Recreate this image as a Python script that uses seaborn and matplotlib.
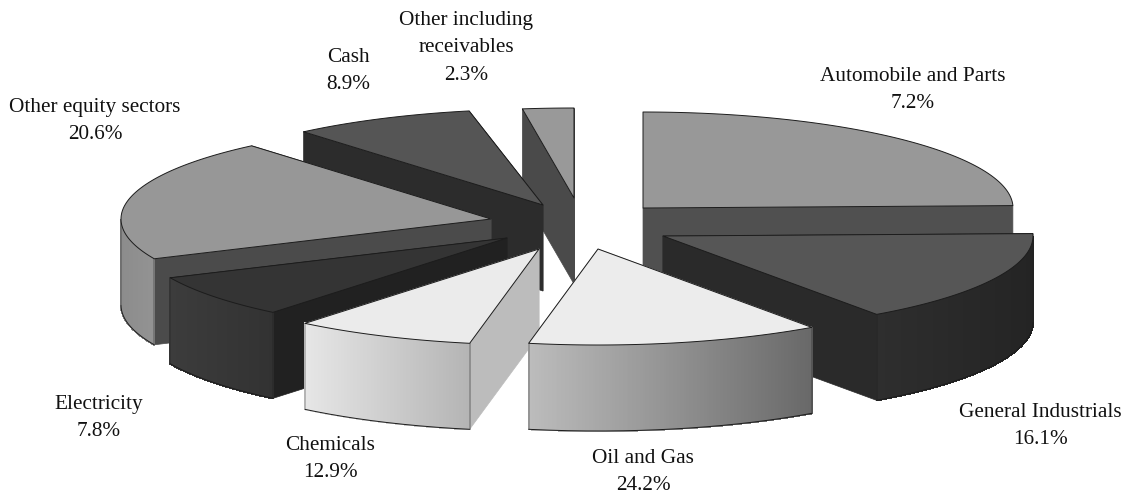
import numpy as np
import matplotlib
matplotlib.use("Agg")
import matplotlib.pyplot as plt
import seaborn as sns

# Data
categories = ["Automobile and Parts", "General Industrials", "Oil and Gas", "Chemicals",
              "Electricity", "Other equity sectors", "Cash", "Other including\nreceivables"]
printed_pct = ["7.2%", "16.1%", "24.2%", "12.9%", "7.8%", "20.6%", "8.9%", "2.3%"]
# Drawn size of every slice as it appears in the picture (differs from printed labels)
drawn_share = [24.6, 15.6, 12.8, 7.9, 7.3, 20.6, 8.0, 3.2]

# Style and layout
CX, CY = 590, 225
RX, DEPTH = 370, 86
slice_ry = [96, 96, 96, 96, 96, 96, 96, 90]
start_trim_deg = [0, 0, 0, 0, 0, 0, 0, 3.5]
apex_dx = [53, 73, 8, -51, -83, -99, -47, -16]
apex_dy = [-17, 11, 24, 24, 13, -6, -20, -27]
top_col = ["#989898", "#565656", "#ececec", "#ebebeb", "#343434", "#979797", "#555555", "#999999"]
wall_col = ["#505050", "#2a2a2a", "#bdbdbd", "#bcbcbc", "#212121", "#4b4b4b", "#2c2c2c", "#4a4a4a"]
arc_left = ["#8a8a8a", "#2e2e2e", "#bcbcbc", "#e6e6e6", "#3c3c3c", "#8c8c8c", "#333333", "#888888"]
arc_right = ["#666666", "#242424", "#686868", "#b4b4b4", "#323232", "#a8a8a8", "#333333", "#888888"]
draw_order = [7, 6, 5, 4, 0, 1, 3, 2]
label_xy = [(913, 90), (1040, 426), (643, 472), (330, 459), (99, 418), (95, 121), (348, 71), (466, 48)]

sns.set_theme(style="white")
plt.rcParams["font.family"] = ["Liberation Serif", "DejaVu Serif"]

fig = plt.figure(figsize=(11.28, 4.96), dpi=100)
ax = fig.add_axes([0, 0, 1, 1])
ax.set_xlim(0, 1128)
ax.set_ylim(496, 0)
ax.axis("off")

shares = np.asarray(drawn_share, float)
edges = 90 - np.concatenate([[0], np.cumsum(shares)]) / shares.sum() * 360
LW = 0.7
EC = "#1c1c1c"


def hex2rgb(c):
    return np.array(matplotlib.colors.to_rgb(c))


for order, i in enumerate(draw_order):
    ax0, ay0 = CX + apex_dx[i], CY + apex_dy[i]
    RY = slice_ry[i]
    th = np.radians(np.linspace(edges[i] - start_trim_deg[i], edges[i + 1], 160))
    x = ax0 + RX * np.cos(th)
    y = ay0 - RY * np.sin(th)
    base = 1 + order * 3
    # radial walls
    for k in (0, -1):
        ax.fill([ax0, x[k], x[k], ax0], [ay0, y[k], y[k] + DEPTH, ay0 + DEPTH],
                facecolor=wall_col[i], edgecolor=wall_col[i], lw=0.5, zorder=base)
    # shaded outer rim (only the part facing the viewer), drawn as narrow strips
    front = np.sin(th) < 0
    if front.any():
        fx, fy = x[front], y[front]
        xmin, xmax = x.min(), x.max()
        cl, cr = hex2rgb(arc_left[i]), hex2rgb(arc_right[i])
        for j in range(len(fx) - 1):
            t = (0.5 * (fx[j] + fx[j + 1]) - xmin) / max(xmax - xmin, 1)
            col = cl + (cr - cl) * t
            ax.fill([fx[j], fx[j + 1], fx[j + 1], fx[j]],
                    [fy[j], fy[j + 1], fy[j + 1] + DEPTH, fy[j] + DEPTH],
                    facecolor=col, edgecolor=col, lw=0.8, antialiased=False, zorder=base + 1)
        ax.plot(fx, fy + DEPTH, color=EC, lw=LW, zorder=base + 1)
        for ex, ey in ((fx[0], fy[0]), (fx[-1], fy[-1])):
            ax.plot([ex, ex], [ey, ey + DEPTH], color=EC, lw=LW * 0.5, zorder=base + 1)
    # top surface
    ax.fill(np.r_[ax0, x], np.r_[ay0, y], facecolor=top_col[i], edgecolor=EC, lw=LW,
            joinstyle="round", zorder=base + 2)

for name, pct, (lx, ly) in zip(categories, printed_pct, label_xy):
    ax.text(lx, ly, f"{name}\n{pct}", ha="center", va="center", fontsize=15.3,
            color="#111111", linespacing=1.58, zorder=100)

fig.savefig("out.png", dpi=100)
